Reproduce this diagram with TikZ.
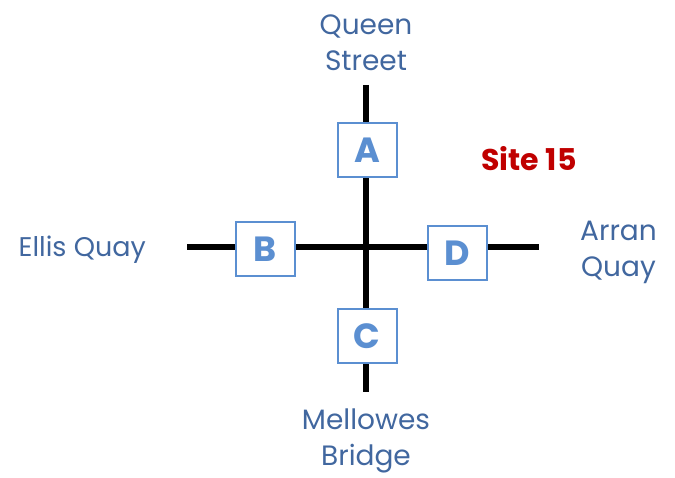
\documentclass[tikz,border=0pt]{standalone}
\usepackage{fontspec}
\setmainfont{Poppins}
\usetikzlibrary{positioning, backgrounds}

\definecolor{boxblue}{HTML}{5B8FD1}
\definecolor{labelblue}{HTML}{41679F}
\definecolor{sitered}{HTML}{C00000}

\begin{document}
\begin{tikzpicture}[
  x=1pt, y=-1pt,
  road/.style={line width=5.5pt, black},
  entry/.style={rectangle, draw=boxblue, line width=2pt, fill=white, minimum width=59pt, minimum height=54pt, inner sep=0pt, text=boxblue, font=\fontsize{35}{35}\selectfont\bfseries},
  street/.style={align=center, inner sep=0pt, text=labelblue, font=\fontsize{28}{36}\selectfont},
  node distance=14pt
]
  \useasboundingbox (0,0) rectangle (675,478);

  % road ends
  \coordinate (n) at (366,85);
  \coordinate (s) at (366,392);
  \coordinate (w) at (187,247);
  \coordinate (e) at (539,247);

  \node[entry] (a) at (367,150) {A};
  \node[entry] (b) at (265,249.5) {B};
  \node[entry] (c) at (367,336) {C};
  \node[entry] (d) at (457.5,253) {D};

  \begin{scope}[on background layer]
    \draw[road] (n) -- (s);
    \draw[road] (w) -- (e);
  \end{scope}

  \node[street, above=14pt of n] (queen) {Queen\\Street};
  \node[street, below=17pt of s] (mellowes) {Mellowes\\Bridge};
  \node[street, left=41pt of w, yshift=-3pt, font=\fontsize{27}{36}\selectfont] (ellis) {Ellis Quay};
  \node[street, right=41pt of e, yshift=-5pt] (arran) {Arran\\Quay};

  \node[text=sitered, inner sep=0pt, font=\fontsize{30}{30}\selectfont\bfseries] (site) at (529,158.5) {Site 15};
\end{tikzpicture}
\end{document}
